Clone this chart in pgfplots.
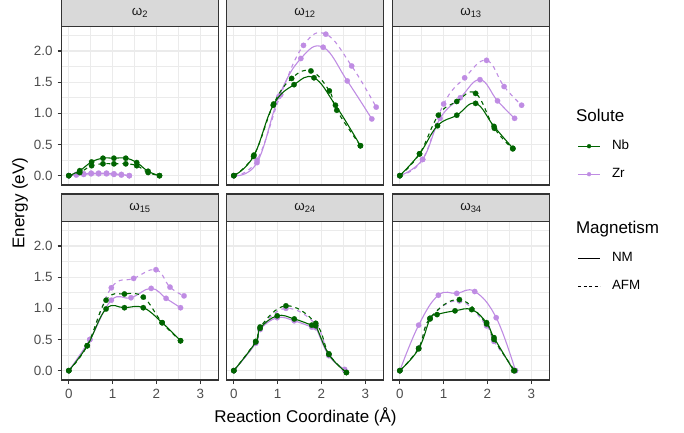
\documentclass[border=0pt]{standalone}
\usepackage{fontspec}
\setmainfont{Liberation Sans}
\usepackage{pgfplots}
\pgfplotsset{compat=1.18}
\definecolor{nb}{RGB}{0,100,0}
\definecolor{zr}{RGB}{191,140,227}
\definecolor{gridc}{RGB}{235,235,235}
\definecolor{stripfill}{RGB}{217,217,217}
\definecolor{framec}{RGB}{51,51,51}
\definecolor{ticklab}{RGB}{77,77,77}
\pgfplotsset{
  panel/.style={
    width=156.6pt, height=158.3pt, scale only axis, anchor=south west,
    xmin=-0.1625, xmax=3.4125, ymin=-0.15, ymax=2.39,
    xtick={0,1,2,3}, ytick={0,0.5,1,1.5,2},
    minor xtick={0.5,1.5,2.5}, minor ytick={0.25,0.75,1.25,1.75,2.25},
    grid=both,
    major grid style={gridc, line width=1.07pt},
    minor grid style={gridc, line width=0.53pt},
    axis line style={framec, line width=1.07pt},
    major tick style={framec, line width=1.07pt},
    minor tick length=0pt,
    tick align=outside, major tick length=4.2pt,
    xtick pos=bottom, ytick pos=left,
    tick label style={font=\fontsize{13.4}{15}\selectfont, text=ticklab},
    xticklabel style={yshift=-1.5pt},
    yticklabel style={xshift=-1.5pt},
    /pgf/number format/assume math mode=true,
    yticklabel style={/pgf/number format/fixed, /pgf/number format/fixed zerofill, /pgf/number format/precision=1},
    clip mode=individual,
    every axis plot/.append style={line width=1.1pt, mark=*, mark size=2.7pt, smooth, tension=0.7},
  },
  noy/.style={yticklabels={}, ytick style={draw=none}},
  nox/.style={xticklabels={}, xtick style={draw=none}},
  nbnm/.style={nb, mark options={solid, fill=nb, line width=0.2pt}},
  nbafm/.style={nb, dash pattern=on 4pt off 4pt, mark options={solid, fill=nb, line width=0.2pt}},
  zrnm/.style={zr, mark options={solid, fill=zr, line width=0.2pt}},
  zrafm/.style={zr, dash pattern=on 4pt off 4pt, mark options={solid, fill=zr, line width=0.2pt}},
}
\newcommand{\strip}[1]{%
  \fill[stripfill] (rel axis cs:0,1) rectangle ([yshift=27.7pt]rel axis cs:1,1);
  \draw[framec, line width=1.07pt] (rel axis cs:0,1) rectangle ([yshift=27.7pt]rel axis cs:1,1);
  \node[text=black!90, font=\fontsize{13.4}{15}\selectfont] at ([yshift=13.85pt]rel axis cs:0.5,1) {#1};
}
\begin{document}
\begin{tikzpicture}
\path[use as bounding box] (0,0) rectangle (684pt,432pt);
% ---------------- omega_2
\begin{axis}[panel, nox, at={(61.7pt,247pt)}]
\addplot[zrnm] coordinates {(0,0)(0.17,0.02)(0.34,0.03)(0.51,0.04)(0.68,0.04)(0.86,0.04)(1.03,0.03)(1.20,0.02)(1.38,0.0)};
\addplot[zrafm] coordinates {(0,0)(0.17,0.01)(0.34,0.02)(0.51,0.03)(0.68,0.03)(0.86,0.03)(1.03,0.02)(1.20,0.01)(1.38,0.0)};
\addplot[nbnm] coordinates {(0,0)(0.25,0.08)(0.52,0.22)(0.78,0.28)(1.03,0.28)(1.30,0.28)(1.55,0.21)(1.81,0.07)(2.07,0)};
\addplot[nbafm] coordinates {(0,0)(0.25,0.05)(0.52,0.16)(0.78,0.19)(1.03,0.19)(1.30,0.19)(1.55,0.16)(1.81,0.05)(2.07,0)};
\strip{ω\textsubscript{2}}
\end{axis}
% ---------------- omega_12
\begin{axis}[panel, nox, noy, at={(226.7pt,247pt)}]
\addplot[zrnm] coordinates {(0,0)(0.53,0.21)(1.03,1.27)(1.53,1.88)(2.04,2.06)(2.59,1.52)(3.15,0.91)};
\addplot[zrafm] coordinates {(0,0)(0.53,0.25)(1.07,1.30)(1.59,2.09)(2.10,2.27)(2.69,1.76)(3.25,1.10)};
\addplot[nbnm] coordinates {(0,0)(0.45,0.31)(0.90,1.13)(1.375,1.46)(1.83,1.57)(2.32,1.13)(2.89,0.48)};
\addplot[nbafm] coordinates {(0,0)(0.46,0.33)(0.91,1.15)(1.32,1.56)(1.76,1.68)(2.18,1.36)(2.35,1.05)(2.89,0.48)};
\strip{ω\textsubscript{12}}
\end{axis}
% ---------------- omega_13
\begin{axis}[panel, nox, noy, at={(392.7pt,247pt)},
  legend style={at={(rel axis cs:1,1)}, anchor=north west, xshift=28pt, yshift=-84.8pt,
    draw=none, fill=none, inner sep=0pt, row sep=15pt, column sep=11.4pt,
    font=\fontsize{13.4}{15}\selectfont,
    nodes={inner sep=0pt, text height=10pt, text depth=3pt}},
  legend cell align=left,
  legend image code/.code={\draw[#1, mark repeat=2, mark phase=2, mark size=2pt] plot coordinates {(0pt,0pt) (11pt,0pt) (22pt,0pt)};},
]
\addplot[zrnm, forget plot] coordinates {(0,0)(0.52,0.26)(0.92,0.92)(1.38,1.25)(1.83,1.54)(2.23,1.20)(2.62,0.92)};
\addplot[zrafm, forget plot] coordinates {(0,0)(0.52,0.26)(1.00,1.15)(1.48,1.57)(1.98,1.85)(2.38,1.43)(2.78,1.13)};
\addplot[nbnm, forget plot] coordinates {(0,0)(0.45,0.35)(0.86,0.80)(1.30,0.97)(1.73,1.16)(2.15,0.79)(2.58,0.44)};
\addplot[nbafm, forget plot] coordinates {(0,0)(0.45,0.35)(0.88,0.97)(1.30,1.19)(1.73,1.32)(2.16,0.76)(2.58,0.43)};
\addlegendimage{empty legend}\addlegendentry{\hspace*{-36pt}\fontsize{17}{19}\selectfont Solute}
\addlegendimage{nb, line width=1.1pt, mark=*, mark options={solid, fill=nb, line width=0.2pt}}\addlegendentry{Nb}
\addlegendimage{zr, line width=1.1pt, mark=*, mark options={solid, fill=zr, line width=0.2pt}}\addlegendentry{Zr}
\addlegendimage{empty legend}\addlegendentry{}
\addlegendimage{empty legend}\addlegendentry{\hspace*{-36pt}\fontsize{17}{19}\selectfont Magnetism}
\addlegendimage{black, line width=1.1pt, mark=none}\addlegendentry{NM}
\addlegendimage{black, line width=1.1pt, mark=none, dash pattern=on 3pt off 2.5pt}\addlegendentry{AFM}
\strip{ω\textsubscript{13}}
\end{axis}
% ---------------- omega_15
\begin{axis}[panel, at={(61.7pt,52pt)}]
\addplot[zrnm] coordinates {(0,0)(0.48,0.50)(0.97,1.13)(1.42,1.17)(1.88,1.32)(2.22,1.16)(2.55,1.01)};
\addplot[zrafm] coordinates {(0,0)(0.48,0.50)(0.97,1.33)(1.48,1.48)(1.99,1.62)(2.31,1.34)(2.63,1.20)};
\addplot[nbnm] coordinates {(0,0)(0.42,0.40)(0.85,0.99)(1.27,1.01)(1.70,1.01)(2.13,0.77)(2.55,0.48)};
\addplot[nbafm] coordinates {(0,0)(0.42,0.40)(0.85,1.13)(1.27,1.23)(1.70,1.18)(2.13,0.77)(2.55,0.48)};
\strip{ω\textsubscript{15}}
\end{axis}
% ---------------- omega_24
\begin{axis}[panel, noy, at={(226.7pt,52pt)}]
\addplot[zrnm] coordinates {(0,0)(0.50,0.44)(0.60,0.66)(0.99,0.85)(1.38,0.80)(1.78,0.70)(1.87,0.69)(2.17,0.24)(2.53,0.02)};
\addplot[zrafm] coordinates {(0,0)(0.50,0.45)(0.60,0.68)(1.19,1.00)(1.87,0.74)(2.17,0.25)(2.53,0.01)};
\addplot[nbnm] coordinates {(0,0)(0.50,0.46)(0.60,0.68)(0.99,0.88)(1.38,0.83)(1.78,0.73)(1.87,0.72)(2.17,0.26)(2.57,-0.03)};
\addplot[nbafm] coordinates {(0,0)(0.50,0.47)(0.60,0.70)(1.19,1.04)(1.87,0.76)(2.17,0.27)(2.57,-0.03)};
\strip{ω\textsubscript{24}}
\end{axis}
% ---------------- omega_34
\begin{axis}[panel, noy, at={(392.7pt,52pt)}]
\addplot[zrnm] coordinates {(0,0)(0.43,0.73)(0.88,1.21)(1.30,1.24)(1.71,1.27)(2.20,0.85)(2.64,0)};
\addplot[zrafm] coordinates {(0,0)(0.43,0.36)(0.69,0.84)(1.36,1.12)(1.98,0.72)(2.15,0.47)(2.64,0.0)};
\addplot[nbnm] coordinates {(0,0)(0.43,0.35)(0.69,0.83)(0.85,0.90)(1.26,0.96)(1.64,0.98)(1.98,0.77)(2.15,0.53)(2.60,0)};
\addplot[nbafm] coordinates {(0,0)(0.43,0.36)(0.69,0.84)(1.36,1.14)(1.98,0.75)(2.15,0.50)(2.62,0.0)};
\strip{ω\textsubscript{34}}
\end{axis}
% axis titles
\node[rotate=90, font=\fontsize{17}{19}\selectfont] at (20pt,229pt) {Energy (eV)};
\node[font=\fontsize{17}{19}\selectfont] at (305.5pt,15pt) {Reaction Coordinate (Å)};
\end{tikzpicture}
\end{document}
